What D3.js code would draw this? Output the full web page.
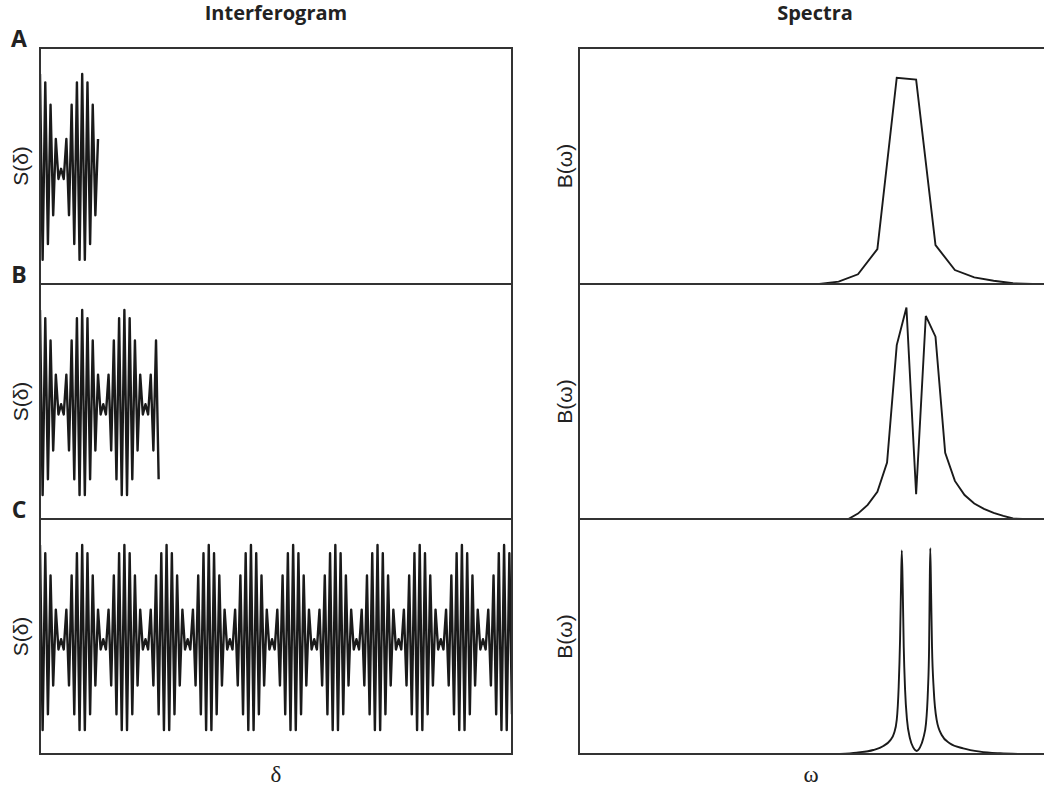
<!DOCTYPE html>
<html><head><meta charset="utf-8">
<script src="https://cdn.jsdelivr.net/npm/d3@7"></script>
<style>body{margin:0;background:#fff}svg{display:block}</style>
</head><body><svg id="c" width="1044" height="791"></svg>
<script>
// ---------- data ----------
const panelLabels = ["A", "B", "C"];
const columnTitles = ["Interferogram", "Spectra"];
const yLabels = ["S(\u03B4)", "B(\u03C9)"];
const xLabels = ["\u03B4", "\u03C9"];

// interferogram vertices S(δ) (δ = sample index)
const signal = [
  1.00,-1.00,0.91,-0.83,0.67,-0.52,0.30,-0.13,-0.02,-0.13,0.30,-0.52,0.67,-0.83,0.91,-1.00,
  1.00,-1.00,0.91,-0.83,0.67,-0.52,0.30,-0.13,-0.02,-0.13,0.30,-0.52,0.67,-0.83,0.91,-1.00,
  1.00,-1.00,0.91,-0.83,0.67,-0.52,0.30,-0.13,-0.02,-0.13,0.30,-0.52,0.67,-0.83,0.91,-1.00,
  1.00,-1.00,0.91,-0.83,0.67,-0.52,0.30,-0.13,-0.02,-0.13,0.30,-0.52,0.67,-0.83,0.91,-1.00,
  1.00,-1.00,0.91,-0.83,0.67,-0.52,0.30,-0.13,-0.02,-0.13,0.30,-0.52,0.67,-0.83,0.91,-1.00,
  1.00,-1.00,0.91,-0.83,0.67,-0.52,0.30,-0.13,-0.02,-0.13,0.30,-0.52,0.67,-0.83,0.91,-1.00,
  1.00,-1.00,0.91,-0.83,0.67,-0.52,0.30,-0.13,-0.02,-0.13,0.30,-0.52,0.67,-0.83,0.91,-1.00,
  1.00,-1.00,0.91,-0.83,0.67,-0.52,0.30,-0.13,-0.02,-0.13,0.30,-0.52,0.67,-0.83,0.91,-1.00,
  1.00,-1.00,0.91,-0.83,0.67,-0.52,0.30,-0.13,-0.02,-0.13,0.30,-0.52,0.67,-0.83,0.91,-1.00,
  1.00,-1.00,0.91,-0.83,0.67,-0.52,0.30,-0.13,-0.02,-0.13,0.30,-0.52,0.67,-0.83,0.91,-1.00,
  1.00,-1.00,0.91,-0.83,0.67,-0.52,0.30,-0.13,-0.02,-0.13,0.30,-0.52,0.67,-0.83,0.91,-1.00,
  1.00,-1.00,0.91,-0.83
];
// last recorded δ sample in each panel (truncated interferograms)
const deltaEnd = [22, 45, 179];

// spectra B(ω)
const omegaA = [12.4,13.4,14.4,15.4,16.4,17.4,18.4,19.4,20.4,21.4,22.4,23.4];
const specA  = [0.00,0.01,0.041,0.148,0.874,0.866,0.165,0.059,0.028,0.014,0.003,0.00];

const omegaB = [13.9,14.4,14.9,15.4,15.9,16.4,16.9,17.4,17.9,18.4,18.9,19.4,19.9,20.4,20.9,21.4,21.9,22.4,22.9];
const specB  = [0.00,0.023,0.06,0.116,0.24,0.74,0.90,0.106,0.864,0.776,0.282,0.162,0.102,0.066,0.043,0.026,0.013,0.002,0.00];

const omegaC = [13.47,14.33,15.19,15.71,16.05,16.26,16.40,16.50,16.57,16.62,16.66,16.71,16.76,16.83,16.93,17.08,17.25,17.43,
                17.60,17.77,17.91,18.01,18.07,18.10,18.13,18.17,18.22,18.31,18.46,18.72,19.15,19.83,20.70,21.73,22.76];
const specC  = [0.00,0.006,0.017,0.034,0.057,0.088,0.145,0.287,0.485,0.712,0.866,0.698,0.457,0.274,0.145,0.067,0.028,0.013,
                0.028,0.067,0.13,0.272,0.457,0.698,0.876,0.698,0.457,0.272,0.145,0.081,0.045,0.024,0.01,0.003,0.00];

// ---------- layout ----------
const svg = d3.select("#c");
const rowTop = [48, 284, 519], rowBot = [284, 519, 754];
const L = {x0: 40, x1: 512}, R = {x0: 579, x1: 1050};
const ink = "#1a1a1a", frame = "#333";

const xDelta = d3.scaleLinear().domain([0, 179]).range([L.x0, L.x1]);
const xOmega = d3.scaleLinear().domain([0, 24]).range([R.x0, R.x0 + 465]);

const spectra = [
  {w: omegaA, v: specA, curve: d3.curveLinear},
  {w: omegaB, v: specB, curve: d3.curveLinear},
  {w: omegaC, v: specC, curve: d3.curveMonotoneX}
];

const defs = svg.append("defs");

for (let i = 0; i < 3; i++) {
  const t = rowTop[i], b = rowBot[i];
  defs.append("clipPath").attr("id", "cl" + i).append("rect")
    .attr("x", L.x0).attr("y", t).attr("width", L.x1 - L.x0).attr("height", b - t);
  defs.append("clipPath").attr("id", "cr" + i).append("rect")
    .attr("x", R.x0).attr("y", t).attr("width", R.x1 - R.x0).attr("height", b - t);

  // interferogram
  const yS = d3.scaleLinear().domain([-1.26, 1.28]).range([b, t]);
  const pts = signal.slice(0, deltaEnd[i] + 1).map((v, k) => [k, v]);
  svg.append("path").datum(pts)
    .attr("clip-path", `url(#cl${i})`)
    .attr("d", d3.line().x(d => xDelta(d[0])).y(d => yS(d[1])))
    .attr("fill", "none").attr("stroke", ink).attr("stroke-width", 2.4)
    .attr("stroke-linejoin", "round");

  // spectrum
  const yB = d3.scaleLinear().domain([0, 1]).range([b, t]);
  const sp = spectra[i];
  svg.append("path").datum(sp.w.map((w, k) => [w, sp.v[k]]))
    .attr("clip-path", `url(#cr${i})`)
    .attr("d", d3.line().curve(sp.curve).x(d => xOmega(d[0])).y(d => yB(d[1])))
    .attr("fill", "none").attr("stroke", ink).attr("stroke-width", 1.9);

  // frames
  svg.append("rect").attr("x", L.x0).attr("y", t).attr("width", L.x1 - L.x0).attr("height", b - t)
    .attr("fill", "none").attr("stroke", frame).attr("stroke-width", 2);
  svg.append("path").attr("d", `M${R.x1},${t}H${R.x0}V${b}H${R.x1}`)
    .attr("fill", "none").attr("stroke", frame).attr("stroke-width", 2);

  // panel letters
  svg.append("text").attr("x", 19).attr("y", t - 1).attr("text-anchor", "middle")
    .attr("font-family", "'Open Sans', sans-serif").attr("font-weight", "bold")
    .attr("font-size", 23).attr("fill", "#222").text(panelLabels[i]);

  // y labels
  const cy = (t + b) / 2;
  [[21, yLabels[0]], [565, yLabels[1]]].forEach(([x, txt]) => {
    svg.append("text").attr("transform", `translate(${x},${cy}) rotate(-90)`)
      .attr("text-anchor", "middle").attr("dy", "0.35em")
      .attr("font-family", "'Liberation Sans', Arial, sans-serif").attr("font-size", 21)
      .attr("fill", "#222").text(txt);
  });
}

// column titles
[[276, columnTitles[0]], [815, columnTitles[1]]].forEach(([x, txt]) => {
  svg.append("text").attr("x", x).attr("y", 20).attr("text-anchor", "middle")
    .attr("font-family", "'Open Sans', sans-serif").attr("font-weight", "bold")
    .attr("font-size", 20).attr("fill", "#222").text(txt);
});
// x labels
[[276, xLabels[0]], [811, xLabels[1]]].forEach(([x, txt]) => {
  svg.append("text").attr("x", x).attr("y", 782).attr("text-anchor", "middle")
    .attr("font-family", "'Liberation Serif', 'Times New Roman', serif")
    .attr("font-size", 23).attr("fill", "#222").text(txt);
});
</script></body></html>
